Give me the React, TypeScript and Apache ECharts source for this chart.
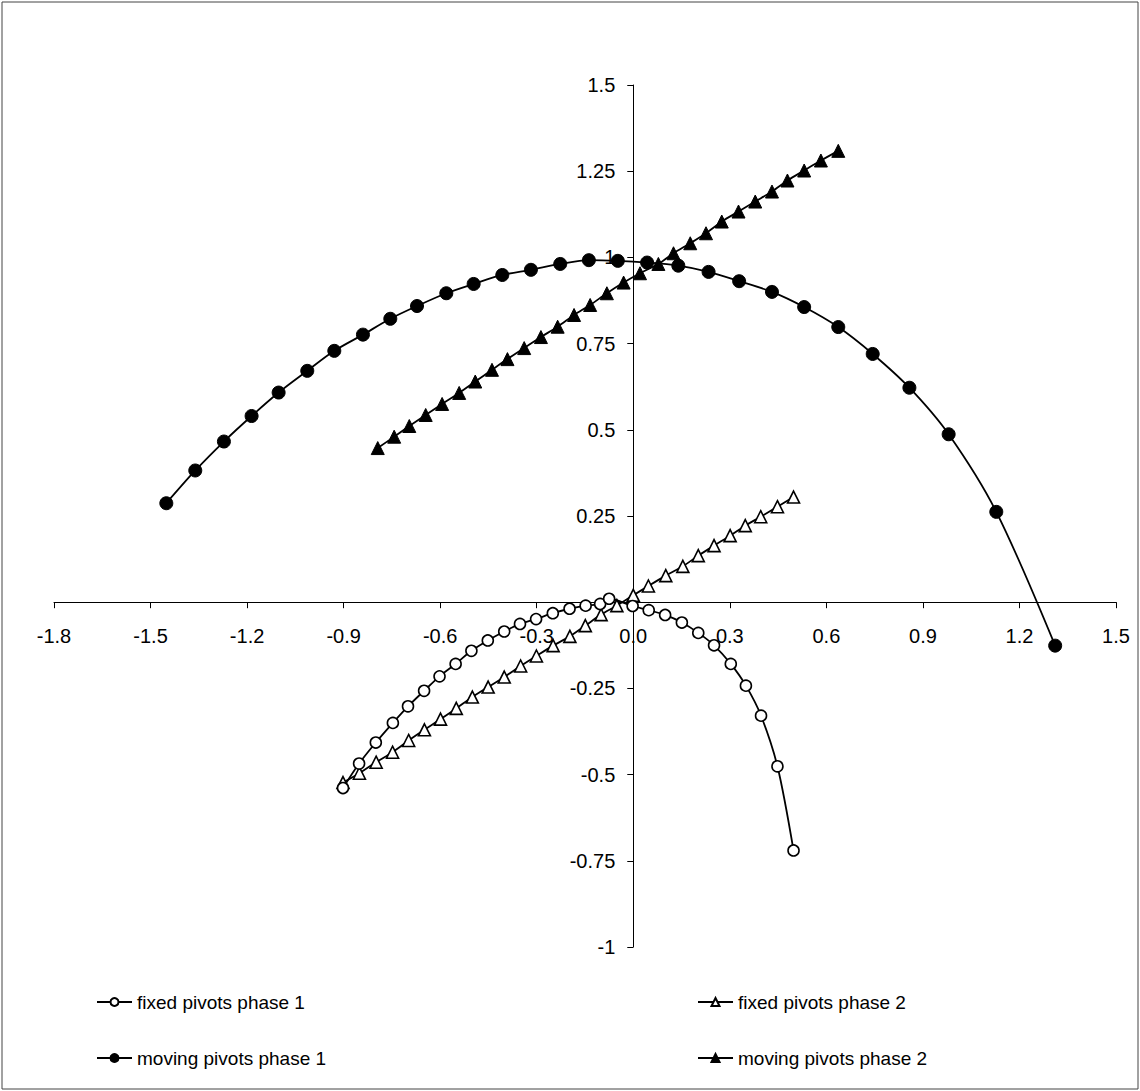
import React, { useEffect, useRef } from "react";
import * as echarts from "echarts";

const seriesNames = [
  "fixed pivots phase 1",
  "fixed pivots phase 2",
  "moving pivots phase 1",
  "moving pivots phase 2",
];

const X_MIN = -1.8;
const X_MAX = 1.5;
const X_STEP = 0.3;
const Y_MIN = -1;
const Y_MAX = 1.5;
const Y_STEP = 0.25;

const fixedP1X = [-0.902, -0.852, -0.8, -0.747, -0.7, -0.65, -0.602, -0.552, -0.503, -0.452, -0.401, -0.352, -0.302, -0.25, -0.198, -0.148, -0.103, -0.075, -0.002, 0.048, 0.099, 0.151, 0.202, 0.251, 0.303, 0.35, 0.397, 0.448, 0.498];
const fixedP1Y = [-0.539, -0.468, -0.407, -0.35, -0.302, -0.257, -0.215, -0.179, -0.141, -0.111, -0.085, -0.063, -0.049, -0.032, -0.019, -0.01, -0.005, 0.01, -0.011, -0.023, -0.037, -0.059, -0.089, -0.125, -0.179, -0.242, -0.329, -0.476, -0.72];

const fixedP2X = [-0.902, -0.851, -0.799, -0.748, -0.698, -0.649, -0.599, -0.55, -0.5, -0.451, -0.401, -0.35, -0.301, -0.249, -0.197, -0.149, -0.1, -0.051, 0.0, 0.047, 0.101, 0.154, 0.202, 0.251, 0.301, 0.348, 0.396, 0.448, 0.498];
const fixedP2Y = [-0.523, -0.496, -0.464, -0.435, -0.401, -0.37, -0.339, -0.308, -0.275, -0.246, -0.217, -0.185, -0.156, -0.126, -0.099, -0.068, -0.036, -0.01, 0.02, 0.047, 0.077, 0.104, 0.135, 0.164, 0.193, 0.222, 0.248, 0.277, 0.305];

const movingP1X = [-1.451, -1.361, -1.272, -1.186, -1.102, -1.013, -0.929, -0.84, -0.755, -0.672, -0.581, -0.496, -0.407, -0.318, -0.227, -0.138, -0.048, 0.043, 0.14, 0.234, 0.329, 0.431, 0.531, 0.637, 0.744, 0.858, 0.98, 1.128, 1.311];
const movingP1Y = [0.287, 0.382, 0.466, 0.54, 0.608, 0.671, 0.729, 0.776, 0.822, 0.859, 0.896, 0.923, 0.949, 0.964, 0.981, 0.992, 0.99, 0.985, 0.976, 0.958, 0.931, 0.9, 0.856, 0.798, 0.72, 0.622, 0.487, 0.262, -0.126];

const movingP2X = [-0.794, -0.743, -0.696, -0.645, -0.594, -0.541, -0.491, -0.439, -0.391, -0.339, -0.287, -0.235, -0.184, -0.134, -0.082, -0.03, 0.021, 0.078, 0.125, 0.177, 0.226, 0.275, 0.327, 0.379, 0.431, 0.479, 0.531, 0.583, 0.637];
const movingP2Y = [0.447, 0.48, 0.511, 0.543, 0.575, 0.607, 0.64, 0.674, 0.705, 0.737, 0.769, 0.799, 0.833, 0.862, 0.896, 0.927, 0.954, 0.981, 1.012, 1.041, 1.07, 1.104, 1.133, 1.162, 1.191, 1.223, 1.252, 1.281, 1.309];

const zip = (xs: number[], ys: number[]) => xs.map((x, i) => [x, ys[i]]);

const FONT = "'Liberation Sans', Arial, Helvetica, sans-serif";
const W = 1140;
const H = 1091;
const GRID = { left: 54, right: 24, top: 85, bottom: 144 };

export default function App() {
  const ref = useRef<HTMLDivElement>(null);
  useEffect(() => {
    if (!ref.current) return;
    const chart = echarts.init(ref.current, null, { renderer: "svg" });
    const gridW = W - GRID.left - GRID.right;
    const gridH = H - GRID.top - GRID.bottom;
    // move axes (line, ticks, labels) so they cross at zero
    const yAxisOffset = -gridW * (0 - X_MIN) / (X_MAX - X_MIN);
    const xAxisOffset = -gridH * (0 - Y_MIN) / (Y_MAX - Y_MIN);
    const lineStyle = { color: "#000", width: 1.8 };
    const openItem = { color: "#fff", borderColor: "#000", borderWidth: 1.6 };
    const fillItem = { color: "#000", borderColor: "#000", borderWidth: 1 };
    const legendText = { fontSize: 19, color: "#000", fontFamily: FONT, lineHeight: 20 };
    chart.setOption({
      animation: false,
      backgroundColor: "#fff",
      textStyle: { fontFamily: FONT },
      grid: { ...GRID, containLabel: false },
      xAxis: {
        type: "value",
        min: X_MIN,
        max: X_MAX,
        interval: X_STEP,
        position: "bottom",
        offset: xAxisOffset,
        splitLine: { show: false },
        axisLine: { onZero: false, lineStyle: { color: "#000", width: 1 } },
        axisTick: { show: true, length: 6, lineStyle: { color: "#000" } },
        axisLabel: {
          margin: 24,
          color: "#000",
          fontSize: 20,
          fontFamily: FONT,
          formatter: (v: number) => v.toFixed(1),
        },
      },
      yAxis: {
        type: "value",
        min: Y_MIN,
        max: Y_MAX,
        interval: Y_STEP,
        position: "left",
        offset: yAxisOffset,
        splitLine: { show: false },
        axisLine: { onZero: false, lineStyle: { color: "#000", width: 1 } },
        axisTick: { show: true, length: 6, lineStyle: { color: "#000" } },
        axisLabel: {
          margin: 18,
          color: "#000",
          fontSize: 20,
          fontFamily: FONT,
          formatter: (v: number) => (Math.abs(v) < 1e-9 ? "" : String(+v.toFixed(2))),
        },
      },
      legend: [
        {
          data: [seriesNames[0], seriesNames[2]],
          orient: "vertical",
          left: 91,
          top: 987,
          itemWidth: 35,
          itemHeight: 10,
          itemGap: 36,
          textStyle: legendText,
        },
        {
          data: [seriesNames[1], seriesNames[3]],
          orient: "vertical",
          left: 692,
          top: 987,
          itemWidth: 35,
          itemHeight: 10,
          itemGap: 36,
          textStyle: legendText,
        },
      ],
      series: [
        {
          name: seriesNames[0],
          type: "line",
          data: zip(fixedP1X, fixedP1Y),
          smooth: 0.3,
          symbol: "circle",
          symbolSize: 11,
          lineStyle,
          itemStyle: openItem,
          z: 3,
        },
        {
          name: seriesNames[1],
          type: "line",
          data: zip(fixedP2X, fixedP2Y),
          smooth: 0.3,
          symbol: "triangle",
          symbolSize: 12,
          lineStyle,
          itemStyle: openItem,
          z: 2,
        },
        {
          name: seriesNames[2],
          type: "line",
          data: zip(movingP1X, movingP1Y),
          smooth: 0.3,
          symbol: "circle",
          symbolSize: 13,
          lineStyle,
          itemStyle: fillItem,
          z: 2,
        },
        {
          name: seriesNames[3],
          type: "line",
          data: zip(movingP2X, movingP2Y),
          smooth: 0.3,
          symbol: "triangle",
          symbolSize: 13,
          lineStyle,
          itemStyle: fillItem,
          z: 3,
        },
      ],
      graphic: [
        {
          type: "rect",
          shape: { x: 2, y: 2, width: 1136, height: 1087 },
          style: { fill: "none", stroke: "#444", lineWidth: 1 },
          silent: true,
        },
      ],
    });
    return () => chart.dispose();
  }, []);
  return (
    <div
      ref={ref}
      style={{ position: "absolute", left: 0, top: 0, width: W, height: H, background: "#fff" }}
    />
  );
}
